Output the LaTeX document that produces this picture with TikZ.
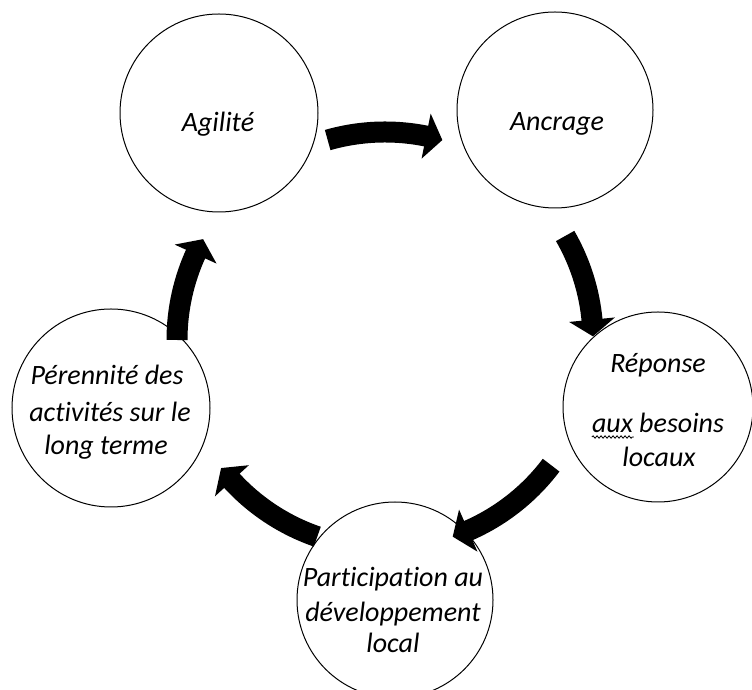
\documentclass[tikz,border=0pt]{standalone}
\usepackage{fontspec}
\setmainfont{Carlito}[Ligatures=CommonOff]
\usetikzlibrary{calc,decorations.pathmorphing}
\begin{document}
\begin{tikzpicture}[x=1pt,y=1pt,
  cyc/.style={circle,draw=black,line width=1pt,minimum size=#1,inner sep=0pt},
  lbl/.style={inner sep=0pt,anchor=base,font=\fontsize{28}{34}\selectfont\itshape},
  shaft/.style={line width=21pt,black}]
\useasboundingbox (0,0) rectangle (752,690);
\fill[white] (0,0) rectangle (752,690);
\coordinate (C) at (385,350);
% circles
\node[cyc=198pt] (ag) at (219,577) {};
\node[cyc=196pt] (an) at (555,580) {};
\node[cyc=190pt] (rp) at (658,283) {};
\node[cyc=196pt] (pa) at (395,90) {};
\node[cyc=198pt] (pe) at (111,282) {};
% texts
\node[lbl] (ag1) at (218,558) {Agilité};
\node[lbl] (an1) at (557,559) {Ancrage};
\node[lbl] (rp1) at (658,317) {Réponse};
\node[lbl] (rp2) at (658,257) {aux besoins};
\node[lbl] (rp3) at (659,223) {locaux};
\node[lbl] (pa1) at (393,103) {Participation au};
\node[lbl] (pa2) at (393,68) {développement};
\node[lbl] (pa3) at (393,37) {local};
\node[lbl] (pe1) at (107,305) {Pérennité des};
\node[lbl] (pe2) at (110,268) {activités sur le};
\node[lbl] (pe3) at (106,235) {long terme};
\draw[line width=0.8pt,decorate,decoration={snake,amplitude=1.2pt,segment length=4pt}]
  ($(rp2.base west)+(0,-4)$) -- ($(rp2.base west)+(42,-4)$);
% curved block arrows (clockwise cycle)
\foreach \s/\e [count=\i] in {106/74, 30/1, -37/-71, -109/-142, 180/151} {
  \pgfmathsetmacro\b{\e+4.6}
  \pgfmathsetmacro\bb{\e+4.0}
  \coordinate (s\i) at ($(C)+(\s:208pt)$);
  \coordinate (t\i) at ($(C)+(\e:208pt)$);
  \draw[shaft] (s\i) arc[start angle=\s,end angle=\bb,radius=208pt];
  \fill[black] (t\i) -- ($(C)+(\b:231pt)$) -- ($(C)+(\b:185pt)$) -- cycle;
}
\end{tikzpicture}
\end{document}
